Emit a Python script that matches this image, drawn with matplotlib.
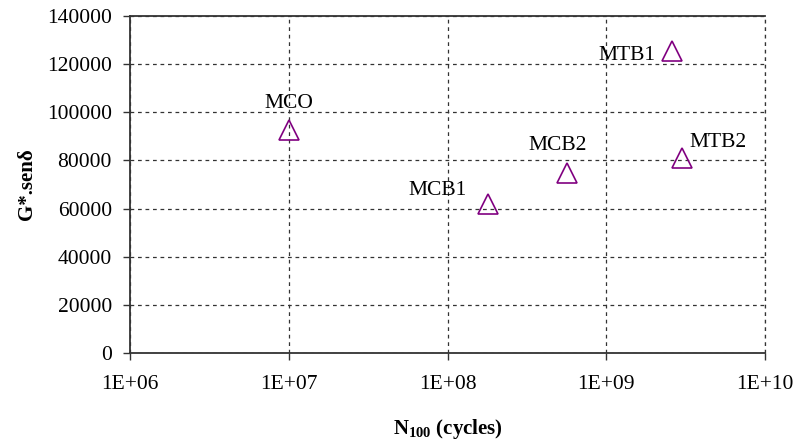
import math
import matplotlib
matplotlib.use("Agg")
import matplotlib.pyplot as plt
from matplotlib.ticker import FixedLocator, NullLocator, FuncFormatter

plt.rcParams['font.family'] = ['Liberation Serif', 'DejaVu Serif']
plt.rcParams['mathtext.fontset'] = 'custom'
plt.rcParams['mathtext.rm'] = 'Liberation Serif'
plt.rcParams['mathtext.bf'] = 'Liberation Serif:bold'

labels = ["MCO", "MCB1", "MCB2", "MTB1", "MTB2"]
n100 = [1.0e7, 1.79e8, 5.7e8, 2.58e9, 2.98e9]
gsen = [92800, 61700, 74600, 125500, 81000]
# label offsets (pixels) relative to each point, baseline anchored
offsets = [(0, 22), (-50, 9), (-10, 23), (-45, -9), (36, 11)]

x_ticks = [1e6, 1e7, 1e8, 1e9, 1e10]
y_ticks = [0, 20000, 40000, 60000, 80000, 100000, 120000, 140000]

fig = plt.figure(figsize=(7.95, 4.41), dpi=100)
ax = fig.add_axes([130/795, (441-353)/441, 635/795, (353-16)/441])

ax.set_xscale('log')
ax.set_xlim(x_ticks[0], x_ticks[-1])
ax.set_ylim(y_ticks[0], y_ticks[-1])
ax.xaxis.set_major_locator(FixedLocator(x_ticks))
ax.xaxis.set_minor_locator(NullLocator())
ax.xaxis.set_major_formatter(FuncFormatter(lambda v, p: "1E+%02d" % round(math.log10(v))))
ax.yaxis.set_major_locator(FixedLocator(y_ticks))
ax.yaxis.set_major_formatter(FuncFormatter(lambda v, p: "%d" % v))

grid_style = dict(linestyle=(0, (3, 3)), color='#333333', linewidth=0.9)
ax.grid(True, which='major', **grid_style)
ax.axvline(x_ticks[-1], clip_on=False, zorder=1, **grid_style)
ax.set_axisbelow(True)

for s in ['left', 'bottom', 'top']:
    ax.spines[s].set_color('#333333')
    ax.spines[s].set_linewidth(1.3)
ax.spines['right'].set_visible(False)

ax.tick_params(axis='both', direction='out', length=5, width=1, color='#333333',
               labelsize=15.5, labelcolor='black')
ax.tick_params(axis='x', pad=11)
ax.tick_params(axis='y', pad=8)

ax.plot(n100, gsen, linestyle='none', marker='^', markersize=14,
        markerfacecolor='none', markeredgecolor='#800080', markeredgewidth=1.2,
        clip_on=False, zorder=3)

for lab, x, y, off in zip(labels, n100, gsen, offsets):
    ax.annotate(lab, (x, y), xytext=off, textcoords='offset pixels',
                ha='center', va='baseline', fontsize=15.5, color='black')

ax.set_xlabel(r"$\mathbf{N_{100}}$ (cycles)", fontsize=15, fontweight='bold')
ax.set_ylabel("G*.senδ", fontsize=15, fontweight='bold')
ax.xaxis.set_label_coords(0.5, -64/337)
ax.yaxis.set_label_coords(-93/635, 0.5)

fig.savefig("out.png", dpi=100)
